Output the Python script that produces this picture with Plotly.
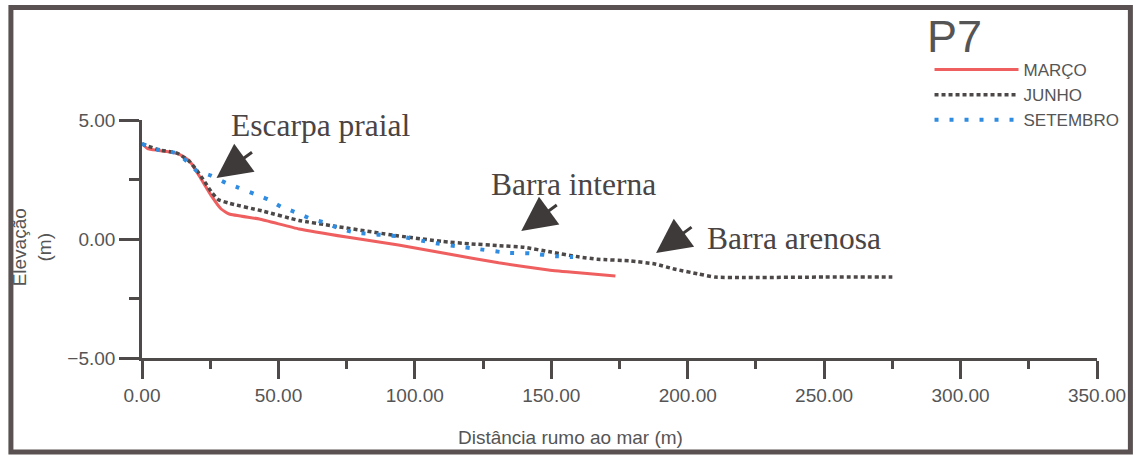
import plotly.graph_objects as go

# ---- data ----
marco_x = [0, 2, 6.3, 13, 17.4, 21, 25.5, 29, 32, 43, 57.6, 75, 94, 112.4, 130.7, 149, 160, 173.5]
marco_y = [4.0, 3.8, 3.72, 3.6, 3.28, 2.65, 1.8, 1.26, 1.05, 0.84, 0.42, 0.08, -0.25, -0.63, -1.0, -1.3, -1.42, -1.55]

junho_x = [0, 6, 13, 17, 20, 23, 25.6, 28, 32, 44, 57.5, 70, 94, 110, 120, 131, 140, 150, 160, 167,
           179, 188, 195, 204, 210, 220, 250, 275]
junho_y = [4.0, 3.75, 3.6, 3.3, 2.9, 2.4, 1.95, 1.65, 1.5, 1.18, 0.78, 0.55, 0.13, -0.1, -0.2, -0.28,
           -0.35, -0.55, -0.75, -0.85, -0.92, -1.05, -1.26, -1.47, -1.6, -1.62, -1.6, -1.6]

setembro_x = [0, 6, 13, 17, 20, 25.3, 30.7, 35.5, 41, 46.5, 51, 56.8, 62, 67.4, 72, 78, 95, 106, 115,
              123, 134, 142, 151.6, 158]
setembro_y = [4.0, 3.75, 3.6, 3.2, 2.87, 2.66, 2.36, 2.15, 1.9, 1.65, 1.35, 1.1, 0.84, 0.68, 0.45,
              0.27, 0.1, -0.15, -0.3, -0.42, -0.58, -0.6, -0.72, -0.76]

series_names = ["MARÇO", "JUNHO", "SETEMBRO"]
profile_name = "P7"

x_ticks = [0, 50, 100, 150, 200, 250, 300, 350]
y_ticks = [-5, 0, 5]

# annotation labels: (text, x, y)
labels = [("Escarpa praial", 65.7, 4.75),
          ("Barra interna", 158.1, 2.31),
          ("Barra arenosa", 238.8, 0.04)]
# arrow tips (x, y)
arrow_tips = [(27.3, 2.56), (139.0, 0.34), (188.4, -0.59)]

# ---- figure ----
AX = "#4f4a4a"
TXT = "#555555"

fig = go.Figure()
fig.add_trace(go.Scatter(x=marco_x, y=marco_y, mode="lines", name=series_names[0],
                         line=dict(color="#ef5f5f", width=3, shape="spline", smoothing=0.4)))
fig.add_trace(go.Scatter(x=junho_x, y=junho_y, mode="lines", name=series_names[1],
                         line=dict(color="#4d4848", width=3.5, dash="4px,3px", shape="spline", smoothing=0.4)))
fig.add_trace(go.Scatter(x=setembro_x, y=setembro_y, mode="lines", name=series_names[2],
                         line=dict(color="#2f8ce0", width=4, dash="4px,11px", shape="spline", smoothing=0.4)))

L, R, T, B = 142, 38, 120, 97
W, H = 1138, 455
pw, ph = W - L - R, H - T - B


def px2paper_x(px):
    return (px - L) / pw


def px2paper_y(py):
    return (H - B - py) / ph


annotations = []
for text, x, y in labels:
    annotations.append(dict(x=x, y=y, xref="x", yref="y", text=text, showarrow=False,
                            xanchor="center", yanchor="middle",
                            font=dict(family="Liberation Serif", size=31.5, color="#4a4444")))
for x, y in arrow_tips:
    annotations.append(dict(x=x, y=y, xref="x", yref="y", text="", showarrow=True,
                            arrowhead=2, arrowsize=2.3, arrowwidth=3, arrowcolor="#3f3a3a",
                            ax=37, ay=-27))
annotations.append(dict(x=px2paper_x(572), y=px2paper_y(437), xref="paper", yref="paper",
                        text="Distância rumo ao mar (m)", showarrow=False,
                        xanchor="center", yanchor="middle",
                        font=dict(family="Liberation Sans", size=19, color=TXT)))
annotations.append(dict(x=px2paper_x(32), y=px2paper_y(247), xref="paper", yref="paper",
                        text="Elevação<br>(m)", showarrow=False, textangle=-90,
                        xanchor="center", yanchor="middle",
                        font=dict(family="Liberation Sans", size=19, color=TXT)))
annotations.append(dict(x=px2paper_x(927), y=px2paper_y(37), xref="paper", yref="paper",
                        text=profile_name, showarrow=False,
                        xanchor="left", yanchor="middle",
                        font=dict(family="Liberation Sans", size=45, color=TXT)))

fig.update_layout(
    width=W, height=H,
    margin=dict(l=L, r=R, t=T, b=B, pad=0),
    paper_bgcolor="white", plot_bgcolor="white",
    font=dict(family="Liberation Sans", color=TXT),
    showlegend=True,
    legend=dict(x=px2paper_x(932), y=px2paper_y(52), xanchor="left", yanchor="top",
                bgcolor="rgba(0,0,0,0)", itemwidth=84,
                font=dict(family="Liberation Sans", size=17, color=TXT)),
    annotations=annotations,
    shapes=[dict(type="rect", xref="paper", yref="paper",
                 x0=px2paper_x(10.5), x1=px2paper_x(1133.5),
                 y0=px2paper_y(452), y1=px2paper_y(7.5),
                 line=dict(color="#5a5252", width=5), fillcolor="rgba(0,0,0,0)", layer="below")],
)

fig.update_xaxes(range=[0, 350], tickvals=x_ticks, tickformat=".2f",
                 showline=True, linecolor=AX, linewidth=2.5, showgrid=False, zeroline=False,
                 ticks="outside", ticklen=18, tickwidth=2.5, tickcolor=AX,
                 tickfont=dict(size=19, color=TXT),
                 minor=dict(ticks="outside", dtick=25, tick0=0, ticklen=8, tickwidth=2.5,
                            tickcolor=AX, showgrid=False))
fig.update_yaxes(range=[-5, 5], tickvals=y_ticks, tickformat=".2f",
                 showline=True, linecolor=AX, linewidth=2.5, showgrid=False, zeroline=False,
                 ticks="outside", ticklen=20, tickwidth=2.5, tickcolor=AX,
                 tickfont=dict(size=19, color=TXT),
                 minor=dict(ticks="outside", dtick=2.5, tick0=0, ticklen=10, tickwidth=2.5,
                            tickcolor=AX, showgrid=False))

fig.write_html("out.html")
